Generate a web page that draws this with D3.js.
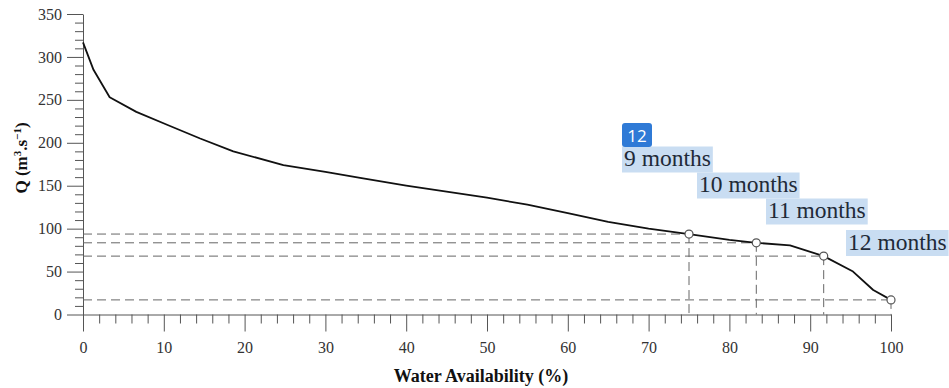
<!DOCTYPE html>
<html>
<head>
<meta charset="utf-8">
<script src="https://cdn.jsdelivr.net/npm/d3@7"></script>
<style>
  body { margin: 0; background: #fff; }
  svg { display: block; }
</style>
</head>
<body>
<div id="chart"></div>
<script>
// flow duration curve
const availability = [0, 1.3, 3.3, 6.6, 10.4, 14.5, 18.6, 24.8, 30, 34.3, 40, 45, 50, 55, 60, 65, 70, 75, 80, 83.33, 87.5, 91.67, 95.3, 97.8, 100];
const discharge = [317, 285, 253, 236, 221, 205, 190, 174, 166, 159, 150, 143, 136, 128, 118, 108, 100, 93.7, 87, 83.5, 80.5, 68, 50, 28.5, 17];

// marked points (9..12 months)
const markAvail = [75, 83.33, 91.67, 100];
const markQ = [93.7, 83.5, 68, 17];
const markLabels = ["9 months", "10 months", "11 months", "12 months"];

const xMajor = [0, 10, 20, 30, 40, 50, 60, 70, 80, 90, 100];
const yMajor = [0, 50, 100, 150, 200, 250, 300, 350];

const width = 949;
const height = 388;

const svg = d3.select("#chart")
    .append("svg")
    .attr("width", width)
    .attr("height", height);

const x = d3.scaleLinear().domain([0, 100]).range([83, 891]);
const y = d3.scaleLinear().domain([0, 350]).range([314.5, 14]);

const axisColor = "#555";
const tickFont = "'Liberation Serif', 'Times New Roman', serif";

// minor ticks
svg.append("g")
    .attr("transform", "translate(0,314.5)")
    .call(d3.axisBottom(x).tickValues(d3.range(0, 101, 2).filter(d => d % 10 !== 0)).tickSize(9).tickSizeOuter(0).tickFormat(""))
    .call(g => g.select(".domain").remove());

svg.append("g")
    .attr("transform", "translate(83,0)")
    .call(d3.axisLeft(y).tickValues(d3.range(0, 351, 10).filter(d => d % 50 !== 0)).tickSize(8).tickSizeOuter(0).tickFormat(""))
    .call(g => g.select(".domain").remove());

// major axes
svg.append("g")
    .attr("transform", "translate(0,314.5)")
    .call(d3.axisBottom(x).tickValues(xMajor).tickSize(17).tickSizeOuter(0).tickPadding(10));

svg.append("g")
    .attr("transform", "translate(83,0)")
    .call(d3.axisLeft(y).tickValues(yMajor).tickSize(16).tickSizeOuter(0).tickPadding(5));

svg.selectAll(".tick line, .domain").attr("stroke", axisColor);
svg.selectAll(".tick text")
    .attr("fill", "#333")
    .style("font-family", tickFont)
    .style("font-size", "16px");

// dashed guide lines
const guides = svg.append("g")
    .attr("stroke", "#666")
    .attr("stroke-width", 1)
    .attr("stroke-dasharray", "9,5")
    .attr("fill", "none");

markAvail.forEach((a, i) => {
    guides.append("line")
        .attr("x1", x(0)).attr("x2", x(a))
        .attr("y1", y(markQ[i])).attr("y2", y(markQ[i]));
    guides.append("line")
        .attr("x1", x(a)).attr("x2", x(a))
        .attr("y1", y(markQ[i])).attr("y2", y(0));
});

// curve
const line = d3.line()
    .x((d, i) => x(availability[i]))
    .y(d => y(d));

svg.append("path")
    .datum(discharge)
    .attr("fill", "none")
    .attr("stroke", "#111")
    .attr("stroke-width", 1.8)
    .attr("stroke-linejoin", "round")
    .attr("d", line);

svg.selectAll(".mark")
    .data(markAvail)
    .enter()
    .append("circle")
    .attr("class", "mark")
    .attr("cx", d => x(d))
    .attr("cy", (d, i) => y(markQ[i]))
    .attr("r", 4)
    .attr("fill", "#fff")
    .attr("stroke", "#555")
    .attr("stroke-width", 1.2);

// axis titles
svg.append("text")
    .attr("x", 481)
    .attr("y", 382)
    .attr("text-anchor", "middle")
    .style("font-family", tickFont)
    .style("font-weight", "bold")
    .style("font-size", "18px")
    .attr("fill", "#111")
    .text("Water Availability (%)");

const yTitle = svg.append("text")
    .attr("transform", "translate(27,158) rotate(-90)")
    .attr("text-anchor", "middle")
    .style("font-family", tickFont)
    .style("font-weight", "bold")
    .style("font-size", "17px")
    .attr("fill", "#111");
yTitle.append("tspan").text("Q (m");
yTitle.append("tspan").attr("dy", -6).style("font-size", "11px").text("3");
yTitle.append("tspan").attr("dy", 6).text(".s");
yTitle.append("tspan").attr("dy", -6).style("font-size", "11px").text("−1");
yTitle.append("tspan").attr("dy", 6).text(")");

// highlighted annotation labels
const labelPos = [[624, 166], [699, 192], [768, 218], [848, 249.5]];
const labels = svg.append("g");
markLabels.forEach((t, i) => {
    const g = labels.append("g");
    const rect = g.append("rect").attr("fill", "#c9ddf2");
    const txt = g.append("text")
        .attr("x", labelPos[i][0])
        .attr("y", labelPos[i][1])
        .style("font-family", tickFont)
        .style("font-size", "23.5px")
        .attr("fill", "#1f2a38")
        .text(t);
    const bb = txt.node().getBBox();
    rect.attr("x", bb.x - 2).attr("y", labelPos[i][1] - 19.5)
        .attr("width", bb.width + 4).attr("height", 26);
});

// blue badge
const badge = svg.append("g");
badge.append("rect")
    .attr("x", 622).attr("y", 123)
    .attr("width", 30).attr("height", 24)
    .attr("rx", 3)
    .attr("fill", "#2f7ad6");
badge.append("text")
    .attr("x", 637).attr("y", 141.5)
    .attr("text-anchor", "middle")
    .style("font-family", "'Open Sans', 'Noto Sans', sans-serif")
    .style("font-size", "17px")
    .attr("fill", "#fff")
    .text("12");
</script>
</body>
</html>
